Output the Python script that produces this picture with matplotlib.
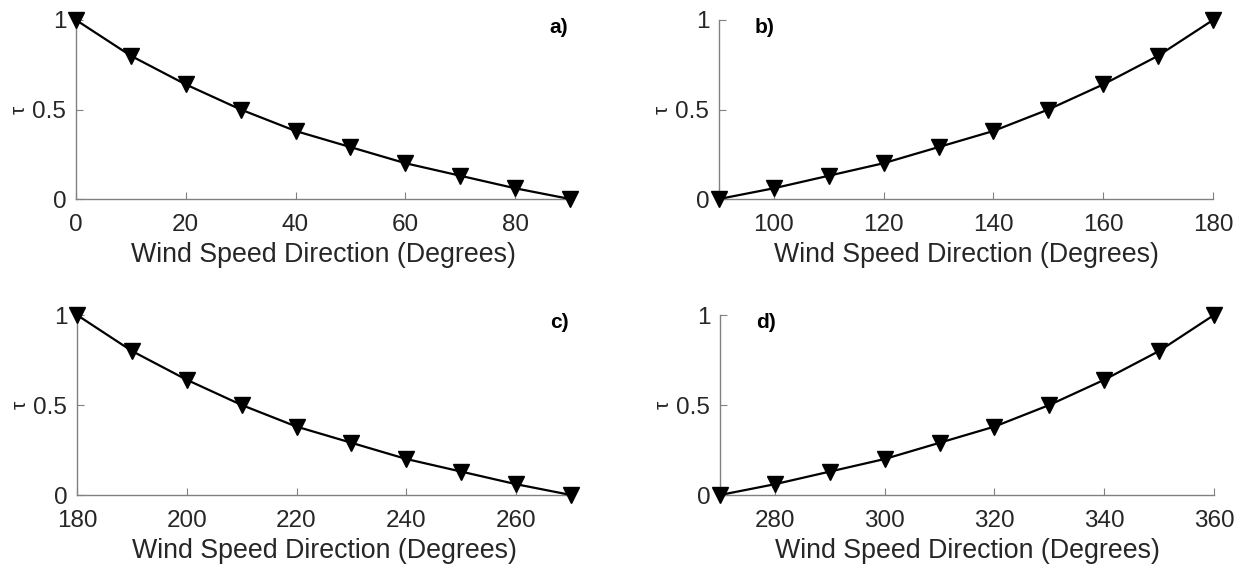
import matplotlib
matplotlib.use('Agg')
import matplotlib.pyplot as plt

plt.rcParams['font.family'] = ['Liberation Sans', 'DejaVu Sans']

# wind direction (degrees) and tau for each quadrant
dir_a = [0, 10, 20, 30, 40, 50, 60, 70, 80, 90]
tau_a = [1.0, 0.80, 0.64, 0.50, 0.38, 0.29, 0.20, 0.13, 0.06, 0.0]

dir_b = [90, 100, 110, 120, 130, 140, 150, 160, 170, 180]
tau_b = [0.0, 0.06, 0.13, 0.20, 0.29, 0.38, 0.50, 0.64, 0.80, 1.0]

dir_c = [180, 190, 200, 210, 220, 230, 240, 250, 260, 270]
tau_c = [1.0, 0.80, 0.64, 0.50, 0.38, 0.29, 0.20, 0.13, 0.06, 0.0]

dir_d = [270, 280, 290, 300, 310, 320, 330, 340, 350, 360]
tau_d = [0.0, 0.06, 0.13, 0.20, 0.29, 0.38, 0.50, 0.64, 0.80, 1.0]

xticks_a = [0, 20, 40, 60, 80]
xticks_b = [100, 120, 140, 160, 180]
xticks_c = [180, 200, 220, 240, 260]
xticks_d = [280, 300, 320, 340, 360]

W, H = 1247, 569
def rect(x0, x1, ytop, ybot):
    return [x0 / W, 1 - ybot / H, (x1 - x0) / W, (ybot - ytop) / H]

panels = [
    (dir_a, tau_a, xticks_a, 'a)', rect(76, 570, 20, 199), 0.995, 'right'),
    (dir_b, tau_b, xticks_b, 'b)', rect(719, 1213, 20, 199), 0.073, 'left'),
    (dir_c, tau_c, xticks_c, 'c)', rect(77, 571, 315, 495), 0.995, 'right'),
    (dir_d, tau_d, xticks_d, 'd)', rect(720, 1214, 315, 495), 0.073, 'left'),
]

fig = plt.figure(figsize=(12.47, 5.69), dpi=100)

for x, y, xt, lab, r, lab_x, lab_ha in panels:
    ax = fig.add_axes(r)
    ax.plot(x, y, color='black', lw=1.6, marker='v', ms=11,
            markerfacecolor='black', clip_on=False, zorder=3)
    ax.set_xlim(x[0], x[-1])
    ax.set_ylim(0, 1)
    ax.set_xticks(xt)
    ax.set_yticks([0, 0.5, 1])
    ax.set_yticklabels(['0', '0.5', '1'])
    for s in ['top', 'right']:
        ax.spines[s].set_visible(False)
    for s in ['left', 'bottom']:
        ax.spines[s].set_color('#808080')
        ax.spines[s].set_linewidth(1.0)
    ax.tick_params(direction='in', length=5, colors='#808080',
                   labelcolor='#262626', labelsize=17.5)
    ax.tick_params(axis='x', pad=11)
    ax.tick_params(axis='y', pad=7)
    ax.set_xlabel('Wind Speed Direction (Degrees)', fontsize=19.3,
                  color='#262626', labelpad=4)
    ax.set_ylabel('τ', fontsize=15, color='#262626', labelpad=3)
    ax.text(lab_x, 0.96, lab, transform=ax.transAxes, fontsize=15,
            fontweight='bold', ha=lab_ha, va='center')

plt.savefig('out.png', dpi=100)
